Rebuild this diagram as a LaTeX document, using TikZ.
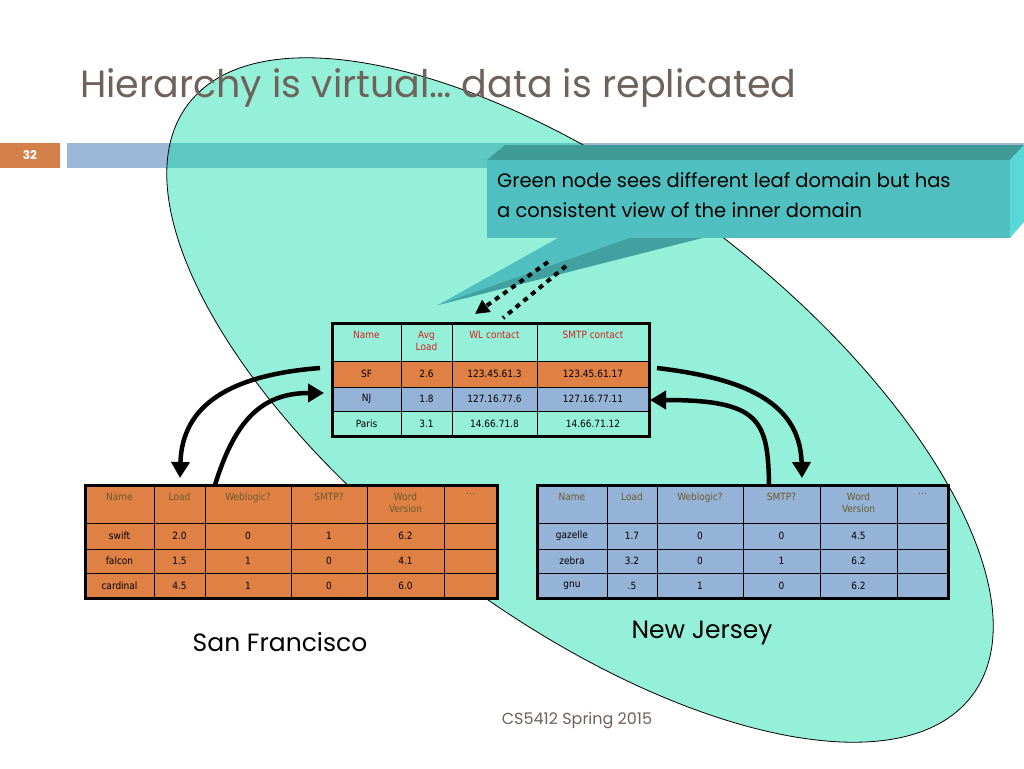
\documentclass[tikz,border=0pt]{standalone}
\usepackage{fontspec}
\setmainfont{Poppins}
\newfontfamily\tabfont{DejaVu Sans Condensed}
\usetikzlibrary{arrows.meta}
\definecolor{aqua}{HTML}{94F0D9}
\definecolor{barblue}{HTML}{9CB8D6}
\definecolor{barteal}{HTML}{5EC8C2}
\definecolor{slideorange}{HTML}{D4804A}
\definecolor{titlegray}{HTML}{6E625A}
\definecolor{calfront}{HTML}{4FBFC0}
\definecolor{caltop}{HTML}{3F9A98}
\definecolor{calside}{HTML}{5AD8D8}
\definecolor{torange}{HTML}{DF8045}
\definecolor{tblue}{HTML}{95B3D7}
\definecolor{hdrbrown}{HTML}{6B5A2A}
\definecolor{hdrred}{HTML}{D42020}
\tikzset{
  cell/.style={draw=black, line width=1pt},
  tline/.style={draw=black, line width=3pt},
  txt/.style={font=\tabfont\fontsize{10}{12}\selectfont, align=center, inner sep=0pt},
  bigarrow/.style={line width=4.5pt, -{Triangle[length=16pt,width=18pt]}},
  dotarrow/.style={line width=4pt, dash pattern=on 5pt off 5pt},
}
\begin{document}
\begin{tikzpicture}[x=1pt,y=-1pt]
\useasboundingbox (0,0) rectangle (1024,768);
\fill[white] (0,0) rectangle (1024,768);
% header bar
\fill[slideorange] (0,143) rectangle (60,168);
\node[font=\fontsize{12}{14}\selectfont\bfseries, text=white] (num) at (30,155.5) {32};
\fill[barblue] (67,143) rectangle (1024,168);
% ellipse
\fill[aqua] (580,400) ellipse[x radius=491, y radius=216, rotate=-37];
\begin{scope}
\clip (580,400) ellipse[x radius=491, y radius=216, rotate=-37];
\fill[barteal] (67,143) rectangle (1024,168);
\end{scope}
\draw[black, line width=0.8pt] (580,400) ellipse[x radius=491, y radius=216, rotate=-37];
% title
\node[anchor=base west, text=titlegray, font=\fontsize{38}{42}\selectfont, inner sep=0pt] (title) at (80,97) {Hierarchy is virtual… data is replicated};
% callout
\fill[caltop] (487,160) -- (505,145) -- (1024,145) -- (1010,160) -- cycle;
\fill[calside] (1010,160) -- (1024,145) -- (1024,222) -- (1010,238) -- cycle;
\fill[calfront] (487,160) rectangle (1010,238);
\fill[calfront] (558,238) -- (702,238) -- (438,305) -- cycle;
\fill[caltop!80!calfront] (630,238) -- (702,238) -- (438,305) -- cycle;
\node[anchor=north west, align=left, font=\fontsize{19.5}{30}\selectfont, inner sep=0pt] (callout) at (497,172) {Green node sees different leaf domain but has\\a consistent view of the inner domain};
% dotted arrows
\coordinate (d1s) at (548,262);
\coordinate (d1e) at (475,314);
\coordinate (d2s) at (566,266);
\coordinate (d2e) at (503,318);
\draw[dotarrow, -{Triangle[length=14pt,width=14pt]}] (d1s) -- (d1e);
\draw[dotarrow] (d2s) -- (d2e);
% ===== central table
\fill[aqua] (332,323) rectangle (649,436);
\fill[torange] (332,361) rectangle (649,387);
\fill[tblue] (332,387) rectangle (649,411);
\foreach \x in {401,452,537} \draw[cell] (\x,323) -- (\x,436);
\foreach \y in {361,387,411} \draw[cell] (332,\y) -- (649,\y);
\draw[tline] (332,323) rectangle (649,436);
\node[txt, text=hdrred, anchor=north] (c11) at (366.5,331) {Name};
\node[txt, text=hdrred, anchor=north] (c12) at (426.5,331) {Avg\\Load};
\node[txt, text=hdrred, anchor=north] (c13) at (494.5,331) {WL contact};
\node[txt, text=hdrred, anchor=north] (c14) at (593,331) {SMTP contact};
\node[txt] (c21) at (366.5,374) {SF};
\node[txt] (c22) at (426.5,374) {2.6};
\node[txt] (c23) at (494.5,374) {123.45.61.3};
\node[txt] (c24) at (593,374) {123.45.61.17};
\node[txt] (c31) at (366.5,399) {NJ};
\node[txt] (c32) at (426.5,399) {1.8};
\node[txt] (c33) at (494.5,399) {127.16.77.6};
\node[txt] (c34) at (593,399) {127.16.77.11};
\node[txt] (c41) at (366.5,423.5) {Paris};
\node[txt] (c42) at (426.5,423.5) {3.1};
\node[txt] (c43) at (494.5,423.5) {14.66.71.8};
\node[txt] (c44) at (593,423.5) {14.66.71.12};
% ===== left table
\fill[torange] (85,485) rectangle (497,598);
\foreach \x in {154,205,291,367,444} \draw[cell] (\x,485) -- (\x,598);
\foreach \y in {523,549,573} \draw[cell] (85,\y) -- (497,\y);
\draw[tline] (85,485) rectangle (497,598);
\node[txt, text=hdrbrown, anchor=north] (l11) at (119.5,493) {Name};
\node[txt, text=hdrbrown, anchor=north] (l12) at (179.5,493) {Load};
\node[txt, text=hdrbrown, anchor=north] (l13) at (248,493) {Weblogic?};
\node[txt, text=hdrbrown, anchor=north] (l14) at (329,493) {SMTP?};
\node[txt, text=hdrbrown, anchor=north] (l15) at (405.5,493) {Word\\Version};
\node[txt, text=hdrbrown, anchor=north] (l16) at (470.5,493) {…};
\foreach \n/\a/\b/\c/\d/\y in {swift/2.0/0/1/6.2/536, falcon/1.5/1/0/4.1/561, cardinal/4.5/1/0/6.0/585.5} {
  \node[txt] at (119.5,\y) {\n};
  \node[txt] at (179.5,\y) {\a};
  \node[txt] at (248,\y) {\b};
  \node[txt] at (329,\y) {\c};
  \node[txt] at (405.5,\y) {\d};
}
% ===== right table
\fill[tblue] (537,485) rectangle (948,598);
\foreach \x in {607,657,743,820,897} \draw[cell] (\x,485) -- (\x,598);
\foreach \y in {523,549,573} \draw[cell] (537,\y) -- (948,\y);
\draw[tline] (537,485) rectangle (948,598);
\node[txt, text=hdrbrown, anchor=north] (r11) at (572,493) {Name};
\node[txt, text=hdrbrown, anchor=north] (r12) at (632,493) {Load};
\node[txt, text=hdrbrown, anchor=north] (r13) at (700,493) {Weblogic?};
\node[txt, text=hdrbrown, anchor=north] (r14) at (781.5,493) {SMTP?};
\node[txt, text=hdrbrown, anchor=north] (r15) at (858.5,493) {Word\\Version};
\node[txt, text=hdrbrown, anchor=north] (r16) at (922.5,493) {…};
\foreach \n/\a/\b/\c/\d/\y in {gazelle/1.7/0/0/4.5/536, zebra/3.2/0/1/6.2/561, gnu/.5/1/0/6.2/585.5} {
  \node[txt] at (572,\y) {\n};
  \node[txt] at (632,\y) {\a};
  \node[txt] at (700,\y) {\b};
  \node[txt] at (781.5,\y) {\c};
  \node[txt] at (858.5,\y) {\d};
}
% ===== big arrows
\coordinate (a1s) at (320,368);
\coordinate (a1e) at (180,478);
\coordinate (a2s) at (215,485);
\coordinate (a2e) at (324,393);
\coordinate (a3s) at (657,368);
\coordinate (a3e) at (802,478);
\coordinate (a4s) at (769,485);
\coordinate (a4e) at (650,400);
\draw[bigarrow] (a1s) .. controls (230,375) and (182,405) .. (a1e);
\draw[bigarrow] (a2s) .. controls (235,420) and (262,393) .. (a2e);
\draw[bigarrow] (a3s) .. controls (740,378) and (800,400) .. (a3e);
\draw[bigarrow] (a4s) .. controls (768,420) and (760,400) .. (a4e);
% labels
\node[font=\fontsize{25}{28}\selectfont] (sf) at (280,642) {San Francisco};
\node[font=\fontsize{25}{28}\selectfont] (nj) at (702,633) {New Jersey};
\node[font=\fontsize{16}{18}\selectfont, text=titlegray] (foot) at (577,721) {CS5412 Spring 2015};
\end{tikzpicture}
\end{document}
